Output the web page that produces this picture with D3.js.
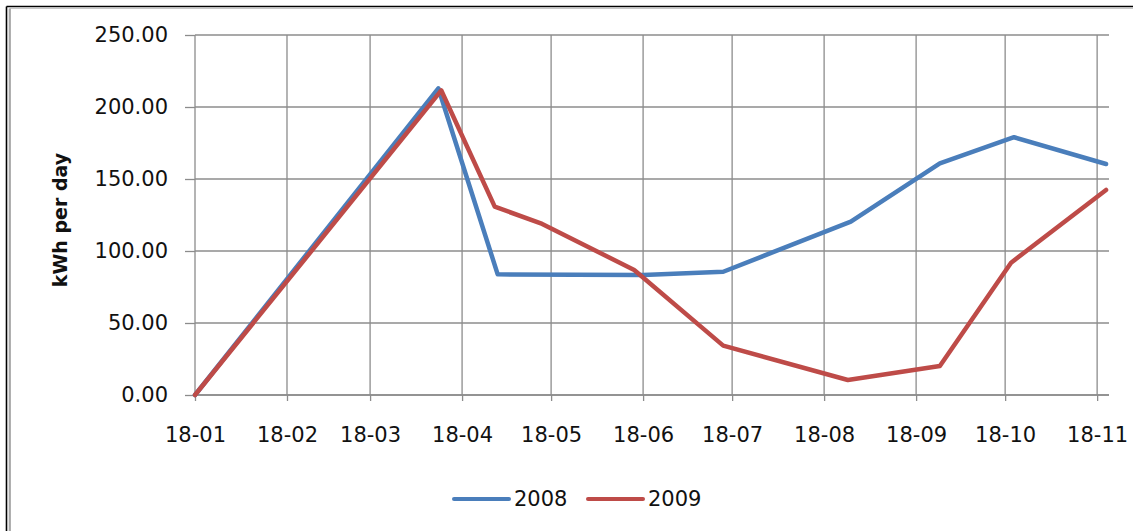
<!DOCTYPE html>
<html>
<head>
<meta charset="utf-8">
<script src="https://cdn.jsdelivr.net/npm/d3@7"></script>
<style>
  body { margin: 0; background: #fff; }
  text { font-family: "DejaVu Sans", sans-serif; fill: #111; }
</style>
</head>
<body>
<script>
// dates read as day-month, one common year
var tickDates = ["01-18","02-18","03-18","04-18","05-18","06-18","07-18","08-18","09-18","10-18","11-18"];
var yTicks = [0, 50, 100, 150, 200, 250];

var dates2008 = ["01-18","04-10","04-30","06-18","07-15","08-27","09-26","10-21","11-21"];
var kwh2008 = [0, 213, 83.8, 83.3, 85.6, 120.4, 160.9, 179, 160.4];

var dates2009 = ["01-18","04-11","04-29","05-15","06-15","07-15","08-26","09-26","10-20","11-21"];
var kwh2009 = [0, 211.5, 130.8, 118.8, 86.8, 34.3, 10.4, 20.1, 91.9, 142.4];

var seriesNames = ["2008", "2009"];
var seriesColors = ["#4a7ebb", "#be4b48"];

var parse = d3.timeParse("%Y-%m-%d");
function toDate(s){ return parse("2009-" + s); }

var svg = d3.select("body")
  .append("svg")
  .attr("width", 1133)
  .attr("height", 531)
  ;

//frame
svg.append("line").attr("x1",6.5).attr("y1",6.5).attr("x2",1133).attr("y2",6.5)
  .attr("stroke","#000").attr("stroke-width",1.6);
svg.append("line").attr("x1",6.5).attr("y1",6.5).attr("x2",6.5).attr("y2",531)
  .attr("stroke","#000").attr("stroke-width",1.6);
svg.append("line").attr("x1",9.5).attr("y1",8.5).attr("x2",1133).attr("y2",8.5)
  .attr("stroke","#c8c8c8").attr("stroke-width",1);
svg.append("line").attr("x1",9.8).attr("y1",8.5).attr("x2",9.8).attr("y2",531)
  .attr("stroke","#a8a8a8").attr("stroke-width",2.2);

var x = d3.scaleTime()
  .domain([toDate("01-18"), toDate("11-22")])
  .range([195, 1109])
  ;
var y = d3.scaleLinear()
  .domain([0, 250])
  .range([395, 35])
  ;

//grid
svg.append("g")
  .selectAll("line.v")
  .data(tickDates)
  .enter()
  .append("line")
  .attr("x1", d => x(toDate(d)))
  .attr("x2", d => x(toDate(d)))
  .attr("y1", y(250))
  .attr("y2", y(0))
  .attr("stroke", "#8c8c8c")
  .attr("stroke-width", 1.3)
  ;
svg.append("g")
  .selectAll("line.h")
  .data(yTicks)
  .enter()
  .append("line")
  .attr("x1", 195)
  .attr("x2", 1109)
  .attr("y1", d => y(d))
  .attr("y2", d => y(d))
  .attr("stroke", "#8c8c8c")
  .attr("stroke-width", 1.3)
  ;

//axes
var xAxis = svg.append("g")
  .attr("transform", "translate(0," + y(0) + ")")
  .call(d3.axisBottom(x)
    .tickValues(tickDates.map(toDate))
    .tickFormat(d3.timeFormat("%d-%m"))
    .tickSize(6)
    .tickPadding(26))
  ;
var yAxis = svg.append("g")
  .attr("transform", "translate(195,0)")
  .call(d3.axisLeft(y)
    .tickValues(yTicks)
    .tickFormat(d3.format(".2f"))
    .tickSize(10)
    .tickPadding(17))
  ;
svg.selectAll(".tick line").attr("stroke", "#8c8c8c").attr("stroke-width", 1.3);
svg.selectAll(".tick text")
  .style("font-family", "DejaVu Sans")
  .style("font-size", "21px")
  .attr("fill", "#111")
  ;
xAxis.selectAll(".domain").remove();
xAxis.append("line").attr("x1",195).attr("x2",1109).attr("stroke","#8c8c8c").attr("stroke-width",1.3);
yAxis.selectAll(".domain").remove();

svg.append("text")
  .attr("transform", "translate(67,220) rotate(-90)")
  .attr("text-anchor", "middle")
  .style("font-size", "19px")
  .style("font-weight", "bold")
  .text("kWh per day")
  ;

//lines
var line = d3.line()
  .x(d => x(d[0]))
  .y(d => y(d[1]))
  ;
var series = [
  d3.zip(dates2008.map(toDate), kwh2008),
  d3.zip(dates2009.map(toDate), kwh2009)
];
svg.selectAll("path.series")
  .data(series)
  .enter()
  .append("path")
  .attr("class", "series")
  .attr("d", line)
  .attr("fill", "none")
  .attr("stroke", (d,i) => seriesColors[i])
  .attr("stroke-width", 4.5)
  .attr("stroke-linejoin", "round")
  .attr("stroke-linecap", "round")
  ;

//legend
var legend = svg.selectAll("g.leg")
  .data(seriesNames)
  .enter()
  .append("g")
  .attr("transform", (d,i) => "translate(" + (454 + i*134) + ",499)")
  ;
legend.append("line")
  .attr("x1", 0).attr("x2", 55)
  .attr("stroke", (d,i) => seriesColors[i])
  .attr("stroke-width", 4)
  .attr("stroke-linecap", "round")
  ;
legend.append("text")
  .attr("x", 60)
  .attr("y", 7)
  .style("font-size", "21px")
  .text(d => d)
  ;
</script>
</body>
</html>
